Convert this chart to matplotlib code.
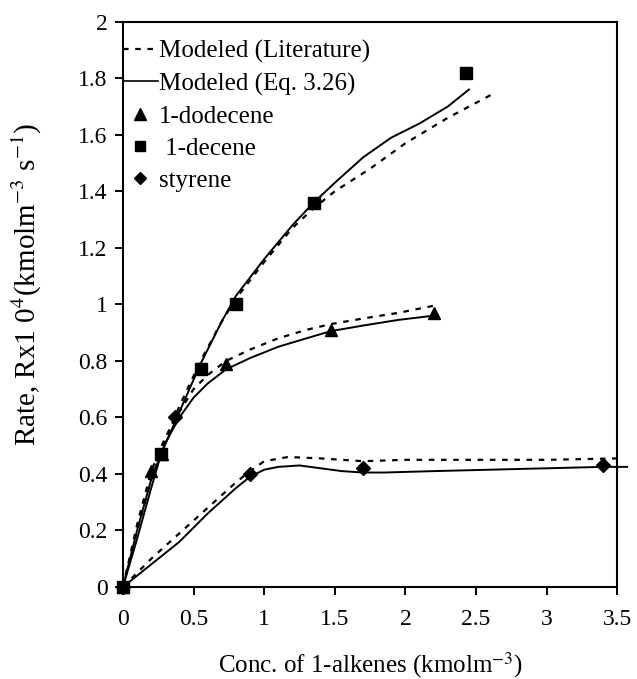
import matplotlib
matplotlib.use("Agg")
import matplotlib.pyplot as plt
from matplotlib.lines import Line2D

plt.rcParams['font.family'] = ['Liberation Serif', 'DejaVu Serif']
plt.rcParams['mathtext.fontset'] = 'stix'

# measured points
dodecene_x = [0, 0.2, 0.28, 0.73, 1.47, 2.2]
dodecene_y = [0, 0.41, 0.47, 0.79, 0.91, 0.97]
decene_x = [0, 0.27, 0.55, 0.8, 1.35, 2.43]
decene_y = [0, 0.47, 0.77, 1.0, 1.36, 1.82]
styrene_x = [0, 0.37, 0.9, 1.7, 3.4]
styrene_y = [0, 0.60, 0.40, 0.42, 0.43]

# modeled curves, Eq. 3.26 (solid)
dec_eq_x = [0, 0.1, 0.2, 0.27, 0.4, 0.55, 0.7, 0.8, 1.0, 1.2, 1.35, 1.5, 1.7, 1.9, 2.1, 2.3, 2.45]
dec_eq_y = [0, 0.17, 0.35, 0.47, 0.62, 0.79, 0.94, 1.03, 1.16, 1.28, 1.36, 1.43, 1.52, 1.59, 1.64, 1.70, 1.76]
dod_eq_x = [0, 0.1, 0.2, 0.3, 0.4, 0.5, 0.6, 0.73, 0.9, 1.1, 1.3, 1.47, 1.7, 1.95, 2.2]
dod_eq_y = [0, 0.2, 0.38, 0.51, 0.6, 0.67, 0.72, 0.77, 0.81, 0.85, 0.88, 0.905, 0.925, 0.945, 0.96]
sty_eq_x = [0, 0.2, 0.4, 0.6, 0.8, 0.9, 1.0, 1.1, 1.25, 1.4, 1.55, 1.7, 1.85, 2.2, 2.6, 3.0, 3.4, 3.57]
sty_eq_y = [0, 0.08, 0.16, 0.26, 0.35, 0.39, 0.415, 0.425, 0.43, 0.42, 0.41, 0.405, 0.405, 0.41, 0.415, 0.42, 0.425, 0.425]

# modeled curves, literature (dashed)
dec_lit_x = [0, 0.1, 0.2, 0.3, 0.4, 0.55, 0.7, 0.8, 1.0, 1.2, 1.35, 1.5, 1.75, 2.0, 2.3, 2.64]
dec_lit_y = [0, 0.2, 0.38, 0.52, 0.64, 0.8, 0.94, 1.02, 1.15, 1.27, 1.34, 1.40, 1.48, 1.57, 1.66, 1.75]
dod_lit_x = [0, 0.1, 0.2, 0.3, 0.4, 0.5, 0.6, 0.73, 0.9, 1.1, 1.3, 1.47, 1.7, 1.95, 2.2]
dod_lit_y = [0, 0.22, 0.41, 0.53, 0.62, 0.7, 0.75, 0.8, 0.84, 0.88, 0.91, 0.93, 0.95, 0.97, 0.995]
sty_lit_x = [0, 0.2, 0.4, 0.6, 0.8, 0.9, 1.0, 1.17, 1.4, 1.7, 2.0, 2.5, 3.0, 3.5]
sty_lit_y = [0, 0.1, 0.19, 0.28, 0.37, 0.41, 0.445, 0.46, 0.455, 0.445, 0.45, 0.45, 0.45, 0.455]

xticks = [0, 0.5, 1, 1.5, 2, 2.5, 3, 3.5]
xtick_labels = ['0', '0.5', '1', '1.5', '2', '2.5', '3', '3.5']
yticks = [0, 0.2, 0.4, 0.6, 0.8, 1, 1.2, 1.4, 1.6, 1.8, 2]
ytick_labels = ['0', '0.2', '0.4', '0.6', '0.8', '1', '1.2', '1.4', '1.6', '1.8', '2']

fig = plt.figure(figsize=(6.37, 6.79), dpi=100)
ax = fig.add_axes([0.193, 0.1355, 0.776, 0.8325])

dash = (2.5, 3)
for x, y in [(dec_lit_x, dec_lit_y), (dod_lit_x, dod_lit_y), (sty_lit_x, sty_lit_y)]:
    ax.plot(x, y, color='black', lw=1.6, dashes=dash, clip_on=False)
for x, y in [(dec_eq_x, dec_eq_y), (dod_eq_x, dod_eq_y), (sty_eq_x, sty_eq_y)]:
    ax.plot(x, y, color='black', lw=1.4, clip_on=False)

ax.plot(dodecene_x, dodecene_y, '^', color='black', ms=9, clip_on=False)
ax.plot(decene_x, decene_y, 's', color='black', ms=8.5, clip_on=False)
ax.plot(styrene_x, styrene_y, 'D', color='black', ms=7, clip_on=False)

ax.set_xlim(0, 3.5)
ax.set_ylim(0, 2)
ax.set_xticks(xticks)
ax.set_xticklabels(xtick_labels)
ax.set_yticks(yticks)
ax.set_yticklabels(ytick_labels)
ax.tick_params(direction='out', length=6, width=1.4, labelsize=17)
ax.tick_params(axis='x', pad=10)
ax.tick_params(axis='y', pad=5)
for s in ax.spines.values():
    s.set_linewidth(1.5)

fig.text(0.581, 0.021, r'Conc. of 1-alkenes (kmolm$^{-3}$)', fontsize=18, ha='center', va='center')
fig.text(0.043, 0.582, r'Rate, Rx1 0$^{4}$(kmolm$^{-3}$ s$^{-1}$)', fontsize=21,
         ha='center', va='center', rotation=90)

handles = [
    Line2D([], [], color='black', lw=1.6, dashes=dash),
    Line2D([], [], color='black', lw=1.2),
    Line2D([], [], ls='none', marker='^', color='black', ms=8),
    Line2D([], [], ls='none', marker='s', color='black', ms=7),
    Line2D([], [], ls='none', marker='D', color='black', ms=6),
]
labels = ['Modeled (Literature)', 'Modeled (Eq. 3.26)', '1-dodecene', ' 1-decene', 'styrene']
ax.legend(handles, labels, loc='upper left', bbox_to_anchor=(0.0, 0.968), frameon=False,
          fontsize=18, handlelength=1.4, handletextpad=0.05, labelspacing=0.38, borderaxespad=0,
          borderpad=0)

fig.savefig('out.png', dpi=100)
